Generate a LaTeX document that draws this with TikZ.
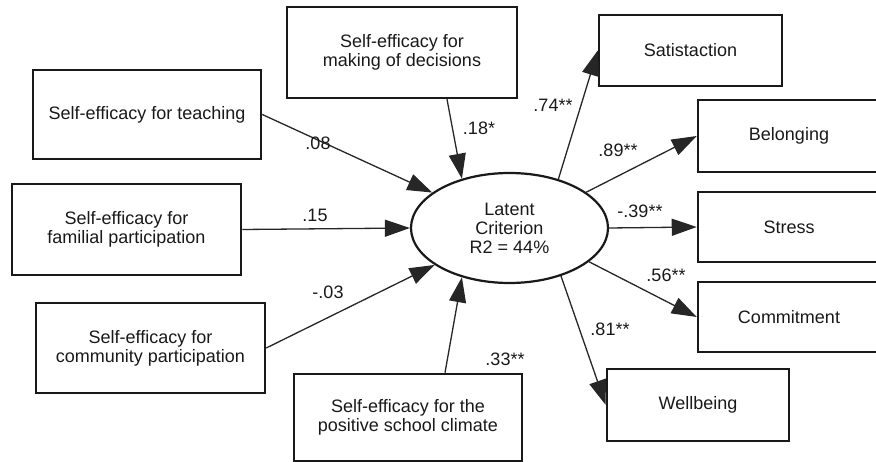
\documentclass[tikz,border=0pt]{standalone}
\usepackage{fontspec}
\setmainfont{Liberation Sans}
\usetikzlibrary{arrows.meta,shapes.geometric,calc}
\begin{document}
\begin{tikzpicture}[x=1pt,y=-1pt,
  every node/.style={font=\fontsize{18}{19}\selectfont, text=black!90},
  boxnode/.style={draw=black!90, line width=2.5pt, rectangle, inner sep=0pt, align=center},
  latnode/.style={draw=black!90, line width=2.2pt, ellipse, inner sep=0pt, align=center, minimum width=197pt, minimum height=110pt},
  arr/.style={line width=1.3pt, draw=black!85, -{Triangle[length=25pt,width=17pt]}},
  lbl/.style={inner sep=0pt}]
\useasboundingbox (0,0) rectangle (876,462);
\clip (0,0) rectangle (876,462);
% predictors
\node[boxnode, minimum width=228pt, minimum height=89pt] (teach) at (147,114.5) {Self-efficacy for teaching};
\node[boxnode, minimum width=229pt, minimum height=91pt] (famil) at (126.5,229.5) {Self-efficacy for\\familial participation};
\node[boxnode, minimum width=229pt, minimum height=90pt] (comm) at (150.5,348) {Self-efficacy for\\community participation};
\node[boxnode, minimum width=230pt, minimum height=91pt] (decis) at (402,52.5) {Self-efficacy for\\making of decisions};
\node[boxnode, minimum width=228pt, minimum height=87pt] (clim) at (408,417.5) {Self-efficacy for the\\positive school climate};
% latent
\node[latnode] (lat) at (509.5,228) {Latent\\Criterion\\R2 = 44\%};
% outcomes
\node[boxnode, minimum width=183pt, minimum height=71pt] (satis) at (690.5,50.5) {Satistaction};
\node[boxnode, minimum width=182pt, minimum height=72pt] (belong) at (789,136) {Belonging};
\node[boxnode, minimum width=182pt, minimum height=70pt] (stress) at (789,227) {Stress};
\node[boxnode, minimum width=182pt, minimum height=70pt] (commit) at (789,317) {Commitment};
\node[boxnode, minimum width=182pt, minimum height=72pt] (well) at (698,405) {Wellbeing};
% paths in
\draw[arr] (teach.east) -- (lat);
\draw[arr] (famil.east) -- (lat.west);
\draw[arr] (comm.east) -- (lat);
\draw[arr] ($(decis.south)+(45,0)$) -- (lat.134);
\draw[arr] ($(clim.north)+(37,0)$) -- (lat.226);
% paths out
\draw[arr] (lat.45) -- (satis.west);
\draw[arr] (lat.25) -- (belong.west);
\draw[arr] (lat.east) -- (stress.west);
\draw[arr] (lat.-23) -- (commit.west);
\draw[arr] (lat.-43) -- (well.west);
% labels
\node[lbl] (l1) at (318,143) {.08};
\node[lbl] (l2) at (479,128) {.18*};
\node[lbl] (l3) at (315,215) {.15};
\node[lbl] (l4) at (328,292) {-.03};
\node[lbl] (l5) at (505,359) {.33**};
\node[lbl] (l6) at (553,105) {.74**};
\node[lbl] (l7) at (618,150) {.89**};
\node[lbl] (l8) at (640,211) {-.39**};
\node[lbl] (l9) at (666,275) {.56**};
\node[lbl] (l10) at (610,329) {.81**};
\end{tikzpicture}
\end{document}
